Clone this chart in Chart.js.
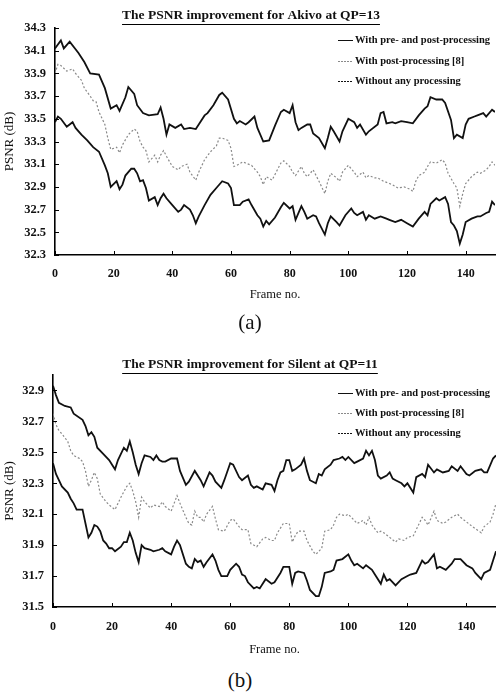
<!DOCTYPE html>
<html>
<head>
<meta charset="utf-8">
<script src="https://cdn.jsdelivr.net/npm/chart.js@4.4.0/dist/chart.umd.min.js"></script>
<style>
    body { margin: 0; background: #fff; width: 496px; height: 696px; position: relative; overflow: hidden; }
    canvas { position: absolute; left: 0; }
    .caption { position: absolute; font-family: 'Liberation Serif', 'Times New Roman', serif; font-size: 21px; color: #111; transform: translate(-50%, -50%); }
</style>
</head>
<body>
<canvas id="chartA" width="496" height="310" style="top:0"></canvas>
<div class="caption" style="left:250px; top:322px">(a)</div>
<canvas id="chartB" width="496" height="320" style="top:345px"></canvas>
<div class="caption" style="left:240px; top:680px">(b)</div>
<script>

const seriesLabels = ['With pre- and post-processing', 'With post-processing [8]', 'Without any processing'];
const frameTicks = [0, 20, 40, 60, 80, 100, 120, 140];

// (a) Akivo, QP=13
const akivoYTicks = [32.3, 32.5, 32.7, 32.9, 33.1, 33.3, 33.5, 33.7, 33.9, 34.1, 34.3];

const akivoPreFrames = [0, 2, 3, 5, 8, 10, 12, 15, 17, 19, 21, 22, 24, 25, 27, 28, 30, 32, 35, 36, 37, 38, 39, 41, 43, 44, 46, 48, 49, 51, 52, 54, 56, 57, 59, 61, 62, 63, 65, 66, 68, 69, 71, 73, 75, 77, 78, 80, 81, 82, 83, 84, 86, 87, 88, 90, 92, 93, 94, 95, 97, 98, 100, 102, 103, 104, 106, 107, 110, 111, 112, 113, 115, 116, 118, 120, 122, 124, 126, 127, 128, 130, 132, 133, 135, 136, 137, 139, 140, 141, 143, 144, 146, 147, 149, 150];
const akivoPre = [34.12, 34.19, 34.12, 34.18, 34.08, 34.00, 33.90, 33.89, 33.77, 33.59, 33.62, 33.57, 33.69, 33.78, 33.72, 33.62, 33.55, 33.53, 33.54, 33.60, 33.50, 33.36, 33.45, 33.42, 33.45, 33.41, 33.42, 33.41, 33.45, 33.53, 33.55, 33.62, 33.71, 33.73, 33.67, 33.50, 33.46, 33.48, 33.45, 33.47, 33.52, 33.42, 33.30, 33.31, 33.44, 33.56, 33.58, 33.55, 33.62, 33.47, 33.40, 33.42, 33.45, 33.45, 33.37, 33.33, 33.24, 33.33, 33.43, 33.39, 33.30, 33.39, 33.50, 33.47, 33.42, 33.45, 33.36, 33.39, 33.45, 33.55, 33.56, 33.46, 33.47, 33.46, 33.48, 33.47, 33.46, 33.53, 33.59, 33.61, 33.69, 33.67, 33.67, 33.64, 33.49, 33.33, 33.36, 33.33, 33.45, 33.50, 33.52, 33.53, 33.55, 33.52, 33.58, 33.56];

const akivoPostFrames = [0, 1, 2, 4, 6, 7, 9, 10, 12, 13, 14, 15, 17, 18, 19, 21, 22, 23, 25, 27, 28, 29, 30, 31, 32, 34, 35, 36, 37, 38, 40, 42, 43, 45, 46, 48, 49, 51, 53, 55, 56, 57, 59, 60, 61, 62, 64, 65, 67, 69, 70, 71, 72, 74, 75, 77, 78, 80, 81, 82, 84, 85, 86, 88, 89, 90, 92, 93, 94, 96, 97, 98, 100, 102, 103, 105, 106, 107, 109, 110, 112, 114, 115, 117, 119, 121, 122, 123, 124, 126, 127, 128, 130, 132, 133, 134, 136, 137, 138, 139, 140, 142, 144, 145, 147, 148, 149, 150];
const akivoPost = [33.90, 33.98, 33.97, 33.92, 33.94, 33.90, 33.84, 33.77, 33.70, 33.66, 33.65, 33.56, 33.45, 33.33, 33.23, 33.25, 33.20, 33.27, 33.36, 33.41, 33.39, 33.30, 33.25, 33.22, 33.12, 33.18, 33.12, 33.18, 33.22, 33.17, 33.08, 33.05, 33.08, 33.10, 33.03, 32.96, 33.03, 33.14, 33.21, 33.26, 33.33, 33.33, 33.31, 33.24, 33.08, 33.09, 33.12, 33.11, 33.09, 33.03, 32.99, 32.92, 32.99, 32.96, 33.01, 33.11, 33.13, 33.08, 33.03, 33.00, 33.08, 33.02, 32.99, 33.05, 33.00, 32.95, 32.84, 32.95, 33.02, 32.98, 32.95, 33.03, 33.09, 33.03, 32.99, 33.03, 32.98, 33.00, 32.98, 32.98, 32.95, 32.93, 32.92, 32.89, 32.90, 32.88, 32.86, 32.95, 33.00, 33.03, 33.08, 33.12, 33.11, 33.14, 33.11, 33.02, 32.93, 32.89, 32.73, 32.84, 32.93, 32.99, 33.03, 33.02, 33.05, 33.08, 33.12, 33.09];

const akivoNoneFrames = [0, 1, 2, 4, 6, 7, 9, 11, 13, 15, 17, 18, 19, 21, 22, 23, 24, 26, 27, 28, 29, 30, 31, 32, 34, 35, 36, 37, 38, 40, 42, 43, 44, 46, 47, 48, 49, 51, 53, 55, 57, 59, 60, 61, 63, 64, 66, 67, 69, 70, 71, 72, 73, 75, 77, 78, 80, 81, 82, 84, 85, 86, 88, 89, 90, 92, 93, 94, 96, 97, 99, 101, 102, 103, 105, 106, 107, 109, 111, 113, 114, 116, 118, 120, 122, 124, 126, 127, 128, 130, 131, 133, 134, 135, 136, 137, 138, 139, 140, 142, 144, 145, 147, 148, 149, 150];
const akivoNone = [33.47, 33.52, 33.50, 33.43, 33.47, 33.42, 33.36, 33.31, 33.25, 33.21, 33.09, 33.02, 32.90, 32.95, 32.88, 32.92, 33.00, 33.06, 33.06, 33.02, 32.95, 32.96, 32.89, 32.78, 32.81, 32.74, 32.80, 32.84, 32.80, 32.74, 32.68, 32.70, 32.74, 32.70, 32.65, 32.58, 32.64, 32.74, 32.83, 32.89, 32.95, 32.93, 32.89, 32.74, 32.74, 32.77, 32.79, 32.74, 32.65, 32.62, 32.55, 32.60, 32.57, 32.63, 32.72, 32.76, 32.71, 32.73, 32.61, 32.73, 32.68, 32.62, 32.65, 32.64, 32.58, 32.48, 32.58, 32.64, 32.59, 32.56, 32.65, 32.71, 32.67, 32.65, 32.68, 32.61, 32.65, 32.62, 32.64, 32.62, 32.61, 32.59, 32.61, 32.58, 32.55, 32.62, 32.68, 32.65, 32.75, 32.80, 32.78, 32.81, 32.75, 32.59, 32.56, 32.51, 32.40, 32.48, 32.59, 32.62, 32.64, 32.64, 32.67, 32.68, 32.77, 32.74];

// (b) Silent, QP=11
const silentYTicks = [31.5, 31.7, 31.9, 32.1, 32.3, 32.5, 32.7, 32.9];

const silentPreFrames = [0, 1, 2, 4, 6, 7, 10, 11, 12, 13, 14, 15, 17, 19, 20, 21, 22, 23, 24, 25, 26, 27, 28, 29, 30, 31, 33, 34, 35, 36, 37, 38, 40, 42, 43, 45, 46, 48, 50, 51, 53, 54, 55, 57, 58, 60, 61, 63, 64, 66, 67, 68, 69, 71, 72, 74, 75, 76, 77, 78, 79, 80, 81, 82, 84, 85, 86, 87, 89, 90, 91, 92, 94, 95, 97, 98, 99, 100, 102, 103, 105, 106, 107, 108, 109, 110, 111, 113, 114, 115, 116, 118, 119, 120, 122, 123, 125, 126, 127, 129, 130, 132, 134, 135, 137, 138, 140, 141, 143, 145, 146, 147, 149, 150];
const silentPre = [32.93, 32.87, 32.82, 32.80, 32.79, 32.75, 32.71, 32.67, 32.61, 32.63, 32.60, 32.53, 32.49, 32.45, 32.42, 32.39, 32.45, 32.49, 32.53, 32.51, 32.57, 32.50, 32.42, 32.36, 32.43, 32.48, 32.47, 32.45, 32.48, 32.45, 32.44, 32.44, 32.46, 32.46, 32.38, 32.29, 32.31, 32.38, 32.32, 32.28, 32.37, 32.35, 32.31, 32.27, 32.32, 32.43, 32.42, 32.34, 32.32, 32.35, 32.29, 32.27, 32.28, 32.26, 32.30, 32.29, 32.25, 32.32, 32.37, 32.38, 32.45, 32.45, 32.38, 32.39, 32.42, 32.46, 32.38, 32.32, 32.30, 32.36, 32.35, 32.39, 32.42, 32.45, 32.46, 32.47, 32.45, 32.47, 32.43, 32.44, 32.46, 32.51, 32.48, 32.51, 32.45, 32.35, 32.33, 32.35, 32.37, 32.33, 32.32, 32.30, 32.28, 32.30, 32.24, 32.34, 32.36, 32.34, 32.42, 32.37, 32.39, 32.37, 32.38, 32.41, 32.38, 32.41, 32.36, 32.35, 32.38, 32.39, 32.37, 32.37, 32.46, 32.48];

const silentPostFrames = [0, 1, 2, 3, 5, 6, 7, 9, 10, 11, 12, 13, 14, 15, 16, 18, 19, 21, 22, 23, 25, 26, 27, 28, 29, 30, 31, 33, 34, 36, 37, 38, 40, 41, 42, 43, 45, 46, 47, 48, 49, 50, 51, 52, 54, 55, 56, 58, 60, 61, 63, 64, 66, 67, 69, 71, 72, 74, 75, 76, 78, 80, 81, 82, 83, 85, 86, 88, 89, 91, 92, 94, 95, 96, 97, 99, 100, 102, 103, 105, 106, 107, 108, 110, 111, 112, 114, 116, 117, 119, 120, 122, 124, 125, 126, 127, 129, 130, 132, 133, 135, 137, 138, 140, 142, 145, 146, 148, 149, 150];
const silentPost = [32.75, 32.68, 32.64, 32.62, 32.57, 32.51, 32.48, 32.46, 32.44, 32.38, 32.28, 32.32, 32.37, 32.33, 32.23, 32.18, 32.16, 32.13, 32.17, 32.21, 32.28, 32.30, 32.25, 32.18, 32.08, 32.21, 32.18, 32.14, 32.16, 32.15, 32.18, 32.15, 32.12, 32.17, 32.22, 32.17, 32.08, 32.04, 32.03, 32.12, 32.08, 32.08, 32.05, 32.10, 32.15, 32.07, 32.00, 31.99, 32.06, 32.07, 32.02, 32.00, 32.00, 31.91, 31.89, 31.94, 31.95, 31.93, 31.93, 31.98, 32.04, 32.04, 31.92, 31.96, 31.99, 31.99, 31.93, 31.86, 31.84, 31.88, 31.99, 32.00, 32.03, 32.08, 32.10, 32.09, 32.10, 32.06, 32.04, 32.06, 32.03, 32.08, 32.03, 31.98, 31.99, 31.98, 31.95, 31.92, 31.94, 31.93, 31.95, 31.96, 32.04, 32.08, 32.06, 32.03, 32.12, 32.06, 32.04, 32.05, 32.08, 32.10, 32.08, 32.05, 32.02, 31.98, 32.02, 32.05, 32.10, 32.17];

const silentNoneFrames = [0, 1, 2, 3, 5, 6, 7, 8, 10, 11, 12, 13, 14, 15, 16, 17, 18, 19, 20, 21, 23, 24, 25, 26, 27, 28, 29, 30, 31, 33, 34, 36, 37, 38, 40, 41, 42, 43, 45, 46, 47, 48, 49, 50, 51, 52, 54, 55, 56, 57, 59, 60, 62, 63, 64, 65, 66, 68, 69, 70, 71, 72, 74, 75, 77, 78, 80, 81, 82, 83, 85, 86, 87, 89, 90, 91, 92, 94, 95, 96, 98, 100, 101, 102, 103, 105, 106, 108, 109, 111, 112, 113, 114, 116, 118, 120, 121, 123, 125, 126, 127, 129, 130, 131, 133, 135, 136, 138, 140, 142, 143, 145, 146, 148, 149, 150];
const silentNone = [32.43, 32.36, 32.32, 32.28, 32.24, 32.20, 32.17, 32.13, 32.13, 32.04, 31.95, 31.98, 32.03, 32.02, 31.99, 31.93, 31.91, 31.88, 31.88, 31.86, 31.89, 31.92, 31.92, 31.98, 31.93, 31.85, 31.79, 31.90, 31.88, 31.87, 31.86, 31.87, 31.88, 31.86, 31.84, 31.89, 31.93, 31.90, 31.78, 31.76, 31.75, 31.81, 31.79, 31.80, 31.76, 31.79, 31.84, 31.80, 31.74, 31.70, 31.70, 31.74, 31.78, 31.76, 31.71, 31.70, 31.66, 31.62, 31.63, 31.62, 31.65, 31.68, 31.65, 31.66, 31.72, 31.76, 31.76, 31.65, 31.72, 31.73, 31.72, 31.67, 31.61, 31.57, 31.57, 31.63, 31.72, 31.73, 31.74, 31.80, 31.81, 31.84, 31.80, 31.77, 31.78, 31.75, 31.77, 31.74, 31.71, 31.65, 31.71, 31.67, 31.68, 31.64, 31.68, 31.70, 31.71, 31.72, 31.80, 31.78, 31.79, 31.84, 31.75, 31.76, 31.74, 31.78, 31.81, 31.81, 31.77, 31.75, 31.72, 31.68, 31.72, 31.74, 31.80, 31.86];

const serif = "'Liberation Serif', 'Times New Roman', serif";
const lineStyles = [
    { borderColor: '#111', borderWidth: 1.8, borderDash: [] },
    { borderColor: '#8a8a8a', borderWidth: 1.2, borderDash: [2, 2] },
    { borderColor: '#111', borderWidth: 1.8, borderDash: [] }
];

function toPoints(frames, values) {
    return frames.map((f, i) => ({ x: f, y: values[i] }));
}

// title with underline, legend inside the plot, inward tick marks
const paperDecor = {
    id: 'paperDecor',
    afterDraw(chart, args, opts) {
        const ctx = chart.ctx;
        const { left, bottom } = chart.chartArea;
        ctx.save();

        // tick marks pointing into the plot
        ctx.strokeStyle = '#000';
        ctx.lineWidth = 1;
        const xs = chart.scales.x, ys = chart.scales.y;
        xs.ticks.forEach(t => {
            const px = Math.round(xs.getPixelForValue(t.value)) + 0.5;
            ctx.beginPath(); ctx.moveTo(px, bottom); ctx.lineTo(px, bottom - 4); ctx.stroke();
        });
        ys.ticks.forEach(t => {
            const py = Math.round(ys.getPixelForValue(t.value)) + 0.5;
            ctx.beginPath(); ctx.moveTo(left, py); ctx.lineTo(left + 4, py); ctx.stroke();
        });

        // title
        ctx.fillStyle = '#111';
        ctx.font = 'bold 13.5px ' + serif;
        ctx.textAlign = 'center';
        ctx.textBaseline = 'middle';
        ctx.fillText(opts.title, opts.titleX, opts.titleY);
        const w = ctx.measureText(opts.title).width;
        ctx.lineWidth = 1;
        ctx.beginPath();
        ctx.moveTo(opts.titleX - w / 2, opts.titleY + 8.5);
        ctx.lineTo(opts.titleX + w / 2, opts.titleY + 8.5);
        ctx.stroke();

        // legend
        ctx.font = 'bold 10.5px ' + serif;
        ctx.textAlign = 'left';
        chart.data.datasets.forEach((ds, i) => {
            const y = opts.legendY[i];
            ctx.strokeStyle = ds.borderColor;
            ctx.lineWidth = 1;
            ctx.setLineDash(i === 0 ? [] : [2, 1]);
            ctx.beginPath();
            ctx.moveTo(opts.legendX, y + 0.5);
            ctx.lineTo(opts.legendX + 15, y + 0.5);
            ctx.stroke();
            ctx.setLineDash([]);
            ctx.fillStyle = '#111';
            ctx.fillText(ds.label, opts.legendX + 17, y);
        });
        ctx.restore();
    }
};

function buildPsnrChart(canvasId, series, yMin, yMax, yTicks, box, decor) {
    const datasets = series.map((s, i) => ({
        label: seriesLabels[i],
        data: s,
        borderColor: lineStyles[i].borderColor,
        borderWidth: lineStyles[i].borderWidth,
        borderDash: lineStyles[i].borderDash,
        pointRadius: 0,
        fill: false,
        tension: 0
    }));

    new Chart(document.getElementById(canvasId), {
        type: 'line',
        data: { datasets: datasets },
        plugins: [paperDecor],
        options: {
            responsive: false,
            animation: false,
            layout: { padding: { top: box.top, right: box.right, left: 0, bottom: 0 } },
            scales: {
                x: {
                    type: 'linear',
                    min: 0,
                    max: 150,
                    afterBuildTicks: s => { s.ticks = frameTicks.map(v => ({ value: v })); },
                    afterFit: s => { s.height = box.xHeight; },
                    grid: { display: true, drawOnChartArea: false, drawTicks: false },
                    border: { color: '#000', width: 1.6 },
                    ticks: { color: '#111', padding: box.xPad, maxRotation: 0, font: { family: serif, size: 12, weight: 'bold' } },
                    title: { display: true, text: 'Frame no.', color: '#111', padding: { top: 0, bottom: 7.5 }, font: { family: serif, size: 12.5 } }
                },
                y: {
                    min: yMin,
                    max: yMax,
                    afterBuildTicks: s => { s.ticks = yTicks.map(v => ({ value: v })); },
                    afterFit: s => { s.width = box.yWidth; },
                    grid: { display: true, drawOnChartArea: false, drawTicks: false },
                    border: { color: '#000', width: 1.6 },
                    ticks: { color: '#111', padding: 9, callback: v => v.toFixed(1), font: { family: serif, size: 12.5, weight: 'bold' } },
                    title: { display: true, text: 'PSNR (dB)', color: '#111', padding: { top: 2, bottom: 0 }, font: { family: serif, size: 13 } }
                }
            },
            plugins: {
                legend: { display: false },
                tooltip: { enabled: false },
                paperDecor: decor
            }
        }
    });
}

buildPsnrChart('chartA',
    [toPoints(akivoPreFrames, akivoPre), toPoints(akivoPostFrames, akivoPost), toPoints(akivoNoneFrames, akivoNone)],
    32.3, 34.3, akivoYTicks,
    { top: 28, right: 1, xHeight: 55, yWidth: 55, xPad: 12 },
    { title: 'The PSNR improvement for Akivo at QP=13', titleX: 251, titleY: 16, legendX: 338, legendY: [40, 61, 81] });

buildPsnrChart('chartB',
    [toPoints(silentPreFrames, silentPre), toPoints(silentPostFrames, silentPost), toPoints(silentNoneFrames, silentNone)],
    31.5, 33.0, silentYTicks,
    { top: 30, right: 0, xHeight: 58, yWidth: 53, xPad: 13 },
    { title: 'The PSNR improvement for Silent at QP=11', titleX: 250, titleY: 20, legendX: 338, legendY: [48, 68, 88] });
</script>
</body>
</html>
